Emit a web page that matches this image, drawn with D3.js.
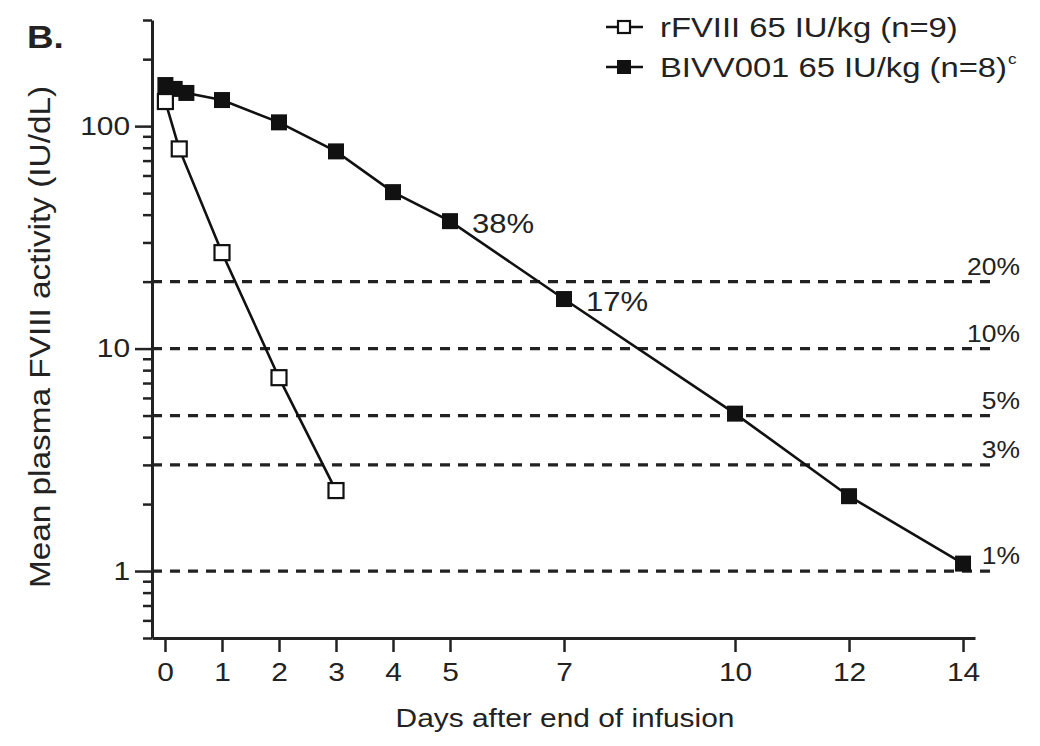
<!DOCTYPE html>
<html>
<head>
<meta charset="utf-8">
<script src="https://cdn.jsdelivr.net/npm/d3@7"></script>
<style>
  html, body { margin: 0; padding: 0; background: #fff; }
  svg { display: block; }
  text { font-family: "Liberation Sans", Arial, Helvetica, sans-serif; fill: #222; }
</style>
</head>
<body>
<svg id="chart" width="1040" height="746"></svg>
<script>
// ---- data ----
const rfviiiDays = [0.007, 0.25, 1, 2, 3];
const rfviiiValues = [129, 79, 27, 7.4, 2.3];
const bivvDays = [0.007, 0.17, 0.375, 1, 2, 3, 4, 5, 7, 10, 12, 14];
const bivvValues = [153, 147, 141, 131, 104, 77, 50.5, 37.4, 16.7, 5.1, 2.17, 1.08];
const xTickValues = [0, 1, 2, 3, 4, 5, 7, 10, 12, 14];
const yMajorTicks = [1, 10, 100];
const yMinorTicks = [0.5, 0.6, 0.7, 0.8, 0.9, 2, 3, 4, 5, 6, 7, 8, 9, 20, 30, 40, 50, 60, 70, 80, 90, 200, 300];
const thresholdValues = [20, 10, 5, 3, 1];
const thresholdLabels = ["20%", "10%", "5%", "3%", "1%"];
const pointLabels = [{day: 5, value: 37.4, text: "38%"}, {day: 7, value: 16.7, text: "17%"}];
const legendLabels = ["rFVIII 65 IU/kg (n=9)", "BIVV001 65 IU/kg (n=8)"];

const SX = 1.15; // horizontal text stretch of the original figure
const svg = d3.select("#chart");

const x = d3.scaleLinear().domain([-0.228, 14.21]).range([152, 975]);
const y = d3.scaleLog().domain([0.5, 300]).range([638, 20]);

function txt(x0, y0, s, size, anchor, weight) {
  return svg.append("text")
    .attr("transform", `translate(${x0},${y0}) scale(${SX},1)`)
    .attr("font-size", size)
    .attr("text-anchor", anchor || "start")
    .attr("font-weight", weight || "normal")
    .text(s);
}

// threshold dashed lines
svg.append("g").selectAll("line").data(thresholdValues).join("line")
  .attr("x1", x.range()[0]).attr("x2", 998)
  .attr("y1", d => y(d)).attr("y2", d => y(d))
  .attr("stroke", "#222").attr("stroke-width", 3.2)
  .attr("stroke-dasharray", "10,8");

// threshold labels
thresholdValues.forEach((v, i) => {
  txt(1020, y(v) - 7, thresholdLabels[i], 23, "end");
});

// y axis
const yMinor = svg.append("g").attr("transform", `translate(${x.range()[0]},0)`)
  .call(d3.axisLeft(y).tickValues(yMinorTicks).tickSize(9).tickSizeOuter(0).tickFormat(""));
yMinor.select(".domain").remove();
yMinor.selectAll("line").attr("stroke", "#222").attr("stroke-width", 2.5);

const yMajor = svg.append("g").attr("transform", `translate(${x.range()[0]},0)`)
  .call(d3.axisLeft(y).tickValues(yMajorTicks).tickSize(17).tickSizeOuter(0).tickFormat(d3.format("d")));
yMajor.select(".domain").attr("stroke", "#222").attr("stroke-width", 3);
yMajor.selectAll("line").attr("stroke", "#222").attr("stroke-width", 2.5);
yMajor.selectAll("text")
  .attr("font-size", 26)
  .attr("font-family", "Liberation Sans, Arial, sans-serif")
  .attr("fill", "#222")
  .attr("x", -22 / SX)
  .attr("transform", `scale(${SX},1)`);

// x axis
const xAxis = svg.append("g").attr("transform", `translate(0,${y.range()[0]})`)
  .call(d3.axisBottom(x).tickValues(xTickValues).tickSize(14).tickPadding(11).tickSizeOuter(0).tickFormat(d3.format("d")));
xAxis.select(".domain").attr("stroke", "#222").attr("stroke-width", 3);
xAxis.selectAll("line").attr("stroke", "#222").attr("stroke-width", 2.5);
xAxis.selectAll("text")
  .attr("font-size", 26)
  .attr("font-family", "Liberation Sans, Arial, sans-serif")
  .attr("fill", "#222")
  .attr("transform", `scale(${SX},1)`);

// axis titles
txt(565, 727, "Days after end of infusion", 26, "middle");
svg.append("text")
  .attr("transform", `translate(50,337) rotate(-90) scale(${SX},1)`)
  .attr("font-size", 29).attr("text-anchor", "middle")
  .text("Mean plasma FVIII activity (IU/dL)");

// panel letter
txt(27, 48, "B.", 32, "start", "bold");

// lines
const line = d3.line().x(d => x(d[0])).y(d => y(d[1]));
const rData = rfviiiDays.map((d, i) => [d, rfviiiValues[i]]);
const bData = bivvDays.map((d, i) => [d, bivvValues[i]]);

svg.append("path").datum(bData).attr("d", line)
  .attr("fill", "none").attr("stroke", "#111").attr("stroke-width", 2.6);
svg.append("path").datum(rData).attr("d", line)
  .attr("fill", "none").attr("stroke", "#111").attr("stroke-width", 2.6);

const S = 16;
svg.append("g").selectAll("rect").data(bData).join("rect")
  .attr("x", d => x(d[0]) - S / 2).attr("y", d => y(d[1]) - S / 2)
  .attr("width", S).attr("height", S).attr("fill", "#111");
const So = 15;
svg.append("g").selectAll("rect").data(rData).join("rect")
  .attr("x", d => x(d[0]) - So / 2).attr("y", d => y(d[1]) - So / 2)
  .attr("width", So).attr("height", So)
  .attr("fill", "#fff").attr("stroke", "#111").attr("stroke-width", 2.2);

// point labels
pointLabels.forEach(p => {
  txt(x(p.day) + 22, y(p.value) + 12, p.text, 27, "start");
});

// legend
const legY = [27, 67];
legY.forEach((ly, i) => {
  svg.append("line").attr("x1", 606).attr("x2", 643).attr("y1", ly).attr("y2", ly)
    .attr("stroke", "#111").attr("stroke-width", 2.6);
  if (i === 0) {
    svg.append("rect").attr("x", 624 - 6).attr("y", ly - 6).attr("width", 12).attr("height", 12)
      .attr("fill", "#fff").attr("stroke", "#111").attr("stroke-width", 2.2);
  } else {
    svg.append("rect").attr("x", 624 - 7).attr("y", ly - 7).attr("width", 14).attr("height", 14)
      .attr("fill", "#111");
  }
  const t = txt(660, ly + 10, legendLabels[i], 28.5, "start");
  if (i === 1) {
    t.append("tspan").attr("font-size", 15).attr("dy", -13).attr("dx", 1).text("c");
  }
});
</script>
</body>
</html>
